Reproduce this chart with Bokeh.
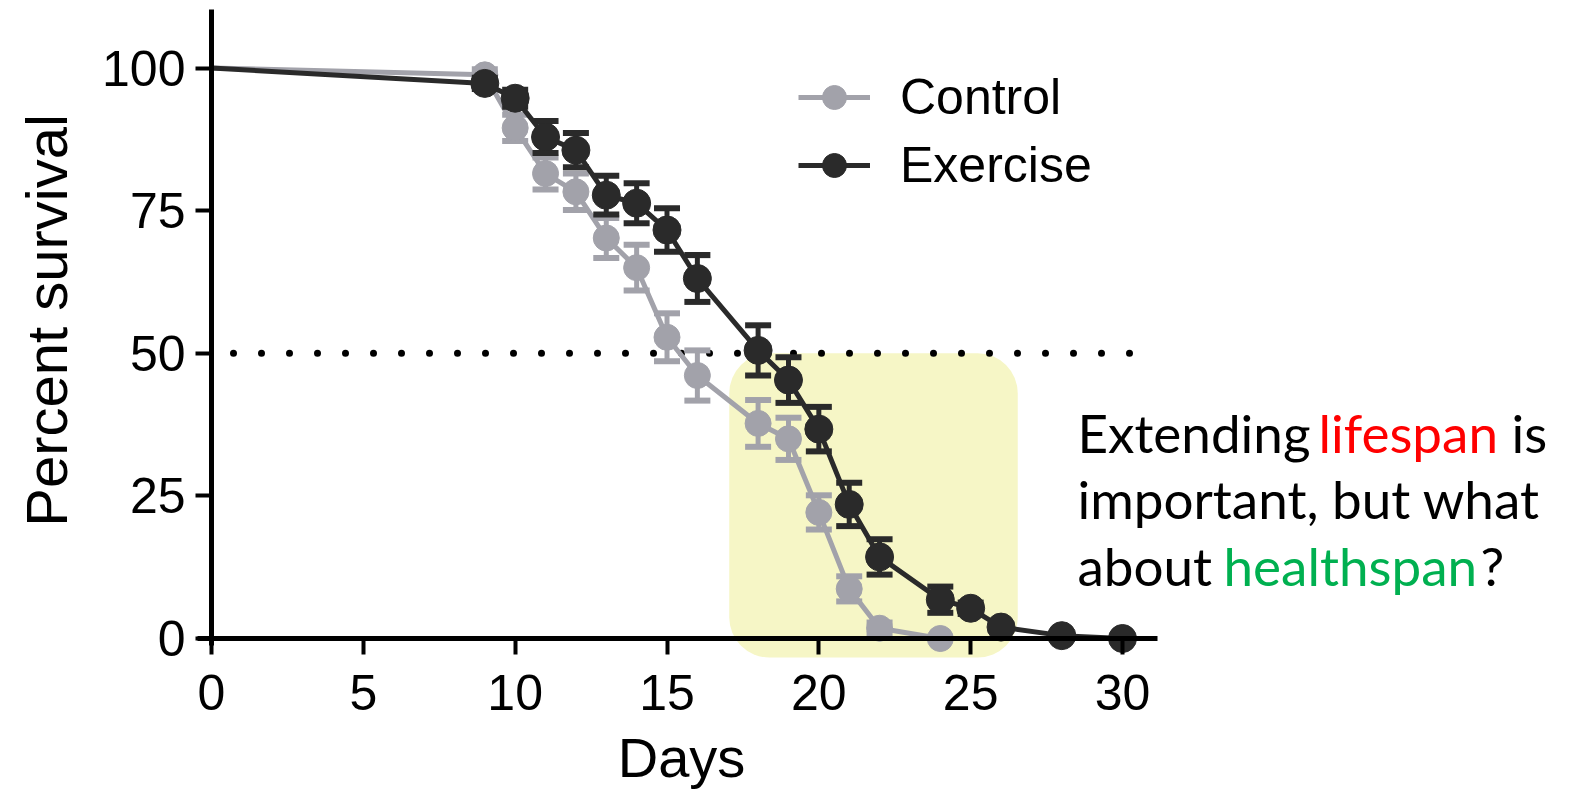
import numpy as np
from bokeh.plotting import figure
from bokeh.models import (Range1d, FixedTicker, BoxAnnotation, Label, Legend, LegendItem)
from bokeh.embed import file_html
from bokeh.resources import INLINE

# ---------------- data ----------------
days_control = [0, 9, 10, 11, 12, 13, 14, 15, 16, 18, 19, 20, 21, 22, 24]
surv_control = [100, 98.8, 89.5, 81.5, 78.3, 70.2, 65.0, 52.8, 46.1, 37.7, 35.0, 22.1, 8.7, 1.8, 0]
err_control = [0, 1.0, 2.3, 2.8, 3.2, 3.5, 4.0, 4.2, 4.4, 4.1, 3.7, 3.0, 2.2, 1.0, 0]

days_exercise = [0, 9, 10, 11, 12, 13, 14, 15, 16, 18, 19, 20, 21, 22, 24, 25, 26, 28, 30]
surv_exercise = [100, 97.3, 94.7, 87.9, 85.6, 77.7, 76.3, 71.6, 63.1, 50.5, 45.3, 36.7, 23.5, 14.3, 6.8, 5.3, 2.0, 0.5, 0]
err_exercise = [0, 1.0, 1.5, 2.8, 3.0, 3.4, 3.5, 3.8, 4.1, 4.4, 4.0, 3.9, 3.8, 3.1, 2.3, 1.0, 0.5, 0, 0]

x_ticks = [0, 5, 10, 15, 20, 25, 30]
y_ticks = [0, 25, 50, 75, 100]
median_level = 50
highlight_days = (17.05, 26.55)

# ---------------- layout (frame = whole canvas) ----------------
W, H = 1573, 799
PX_DAY = 30.367
PX_PCT = 5.705
X0_PX, Y0_PX = 211, 638
X_START, X_END = (0 - X0_PX) / PX_DAY, (W - X0_PX) / PX_DAY
Y_START, Y_END = (Y0_PX - H) / PX_PCT, Y0_PX / PX_PCT


def sx(px):
    return (px - X0_PX) / PX_DAY


def sy(py):
    return (Y0_PX - py) / PX_PCT


GRAY = "#a2a2aa"
DARK = "#2a2a2a"
FONT = "Liberation Sans"

p = figure(width=W, height=H, x_range=Range1d(X_START, X_END), y_range=Range1d(Y_START, Y_END),
           output_backend="svg", toolbar_location=None, min_border=0,
           min_border_left=0, min_border_right=0, min_border_top=0, min_border_bottom=0)
p.outline_line_color = None
p.grid.visible = False
p.background_fill_color = "white"
p.border_fill_color = "white"

# axes
xa = p.xaxis[0]
xa.fixed_location = 0
xa.ticker = FixedTicker(ticks=x_ticks)
xa.bounds = (sx(197), sx(1157))
ya = p.yaxis[0]
ya.fixed_location = 0
ya.ticker = FixedTicker(ticks=y_ticks)
ya.bounds = (sy(645), sy(9))
for ax in (xa, ya):
    ax.axis_line_width = 5
    ax.axis_line_color = "black"
    ax.major_tick_line_width = 4
    ax.major_tick_line_color = "black"
    ax.major_tick_out = 16
    ax.major_tick_in = 0
    ax.minor_tick_line_color = None
    ax.major_label_text_font = FONT
    ax.major_label_text_font_size = "50px"
    ax.major_label_text_color = "black"
xa.major_label_standoff = 20
ya.major_label_standoff = 10

# highlight box
p.add_layout(BoxAnnotation(left=highlight_days[0], right=highlight_days[1], top=median_level,
                           bottom=sy(657), fill_color="#f6f6c6", fill_alpha=1.0,
                           line_color=None, border_radius=40, level="underlay"))

# median dotted line
p.line(x=[sx(233), sx(1145)], y=[median_level, median_level], line_color="black",
       line_width=7, line_dash="0 28", line_cap="round")


def series(days, surv, err, color, msize):
    d = np.array(days, dtype=float)
    s = np.array(surv, dtype=float)
    e = np.array(err, dtype=float)
    m = e > 0
    p.segment(x0=d[m], y0=s[m] - e[m], x1=d[m], y1=s[m] + e[m], line_color=color, line_width=5)
    p.scatter(x=np.concatenate([d[m], d[m]]), y=np.concatenate([s[m] - e[m], s[m] + e[m]]),
              marker="dash", size=26, line_color=color, line_width=6)
    ln = p.line(x=d, y=s, line_color=color, line_width=5)
    sc = p.scatter(x=d[1:], y=s[1:], marker="circle", size=msize, fill_color=color, line_color=color)
    return ln, sc


gl, gs = series(days_control, surv_control, err_control, GRAY, 26)
dl, ds = series(days_exercise, surv_exercise, err_exercise, DARK, 28)

legend = Legend(items=[LegendItem(label="Control", renderers=[gl, gs]),
                       LegendItem(label="Exercise", renderers=[dl, ds])],
                location=(798, H - 195), orientation="vertical",
                glyph_width=72, glyph_height=60, label_standoff=30, spacing=8,
                label_text_font=FONT, label_text_font_size="50px", label_text_color="black",
                padding=0, margin=0, border_line_color=None, background_fill_alpha=0)
p.add_layout(legend)

# axis titles
p.add_layout(Label(x=sx(681), y=sy(757), text="Days", text_font=FONT, text_font_size="56px",
                   text_align="center", text_baseline="alphabetic", text_color="black"))
p.add_layout(Label(x=sx(46), y=sy(320), text="Percent survival", text_font=FONT,
                   text_font_size="58px", angle=np.pi / 2, text_align="center",
                   text_baseline="alphabetic", text_color="black"))

# side note
TF = "Lato"
TS = "53px"
notes = [
    ("Extending", 1077, 432, "black"),
    ("lifespan", 1318, 432, "#ff0000"),
    ("is", 1511, 432, "black"),
    ("important, but what", 1077, 498, "black"),
    ("about", 1077, 565, "black"),
    ("healthspan", 1223, 565, "#00b050"),
    ("?", 1480, 565, "black"),
]
for t, px, py, c in notes:
    p.add_layout(Label(x=sx(px), y=sy(py), text=t, text_font=TF, text_font_size=TS,
                       text_align="left", text_baseline="alphabetic", text_color=c))

open("out.html", "w").write(file_html(p, INLINE))
